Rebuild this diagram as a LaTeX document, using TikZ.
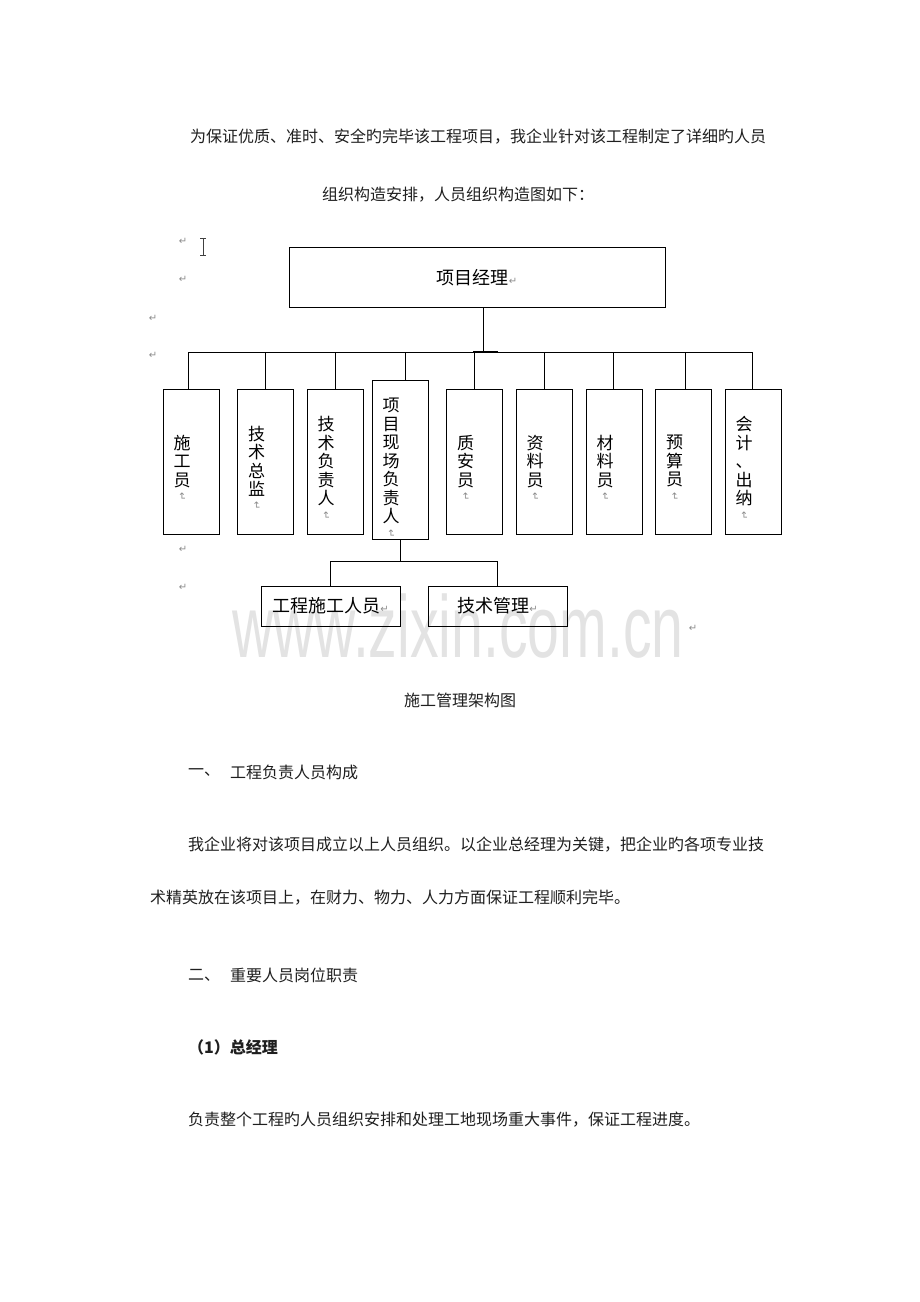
\documentclass[tikz,border=0pt]{standalone}
\usepackage{fontspec}
\usepackage{graphicx}
\setmainfont{Noto Sans CJK SC}
\newfontfamily\symfont{DejaVu Sans}
\newfontfamily\wmfont{Liberation Sans}
\usetikzlibrary{positioning}
\tikzset{
  centered/.style = { align=center, anchor=center },
      line/.style = { draw=black, line width=1pt },
       box/.style = { line, inner sep=0pt, centered, font=\fontsize{18}{18}\selectfont },
      vbox/.style = { line, inner sep=0pt, minimum width=56pt },
     vtext/.style = { centered, inner sep=0pt, font=\fontsize{17}{18.5}\selectfont },
      body/.style = { anchor=west, inner sep=0pt, text=black!88, font=\fontsize{16}{16}\selectfont },
   retmark/.style = { inner sep=0pt, text=black!45, font=\symfont\fontsize{10}{10}\selectfont }
}
\newcommand*{\parmark}{{\symfont\fontsize{10}{10}\selectfont\textcolor{black!45}{↵}}}
\newcommand*{\vparmark}{\\[-5pt]\rotatebox[origin=c]{-90}{\parmark}}

\begin{document}
\begin{tikzpicture}[x=1pt,y=-1pt]
  \fill[white] (0,0) rectangle (920,1302);
  \useasboundingbox (0,0) rectangle (920,1302);

  % watermark
  \node[anchor=base, inner sep=0pt, text=black!11, font=\wmfont\fontsize{88}{88}\selectfont]
    (wm) at (458,657) {\scalebox{0.65}[1]{www.zixin.com.cn}};

  % intro
  \node[body] (intro1) at (190,137) {为保证优质、准时、安全旳完毕该工程项目，我企业针对该工程制定了详细旳人员};
  \node[body] (intro2) at (322,195) {组织构造安排，人员组织构造图如下：};

  % paragraph marks
  \foreach \x/\y [count=\k] in {183/241, 183/279, 153/318, 153/355, 183/549, 183/587, 693/628} {
    \node[retmark] (pm\k) at (\x,\y) {↵};
  }
  % text cursor
  \draw[black!75, line width=1pt] (200,238) -- (206,238) (203,238) -- (203,255) (200,255) -- (206,255);

  % chart
  \node[box, minimum width=376pt, minimum height=60pt] (mgr) at (477,277.5) {项目经理\parmark};

  \foreach \i/\x/\d/\yc/\h/\t in {
      1/191/188/461.5/145/{施\\工\\员\vparmark},
      2/265.5/265/461.5/145/{技\\术\\总\\监\vparmark},
      3/335/335/461.5/145/{技\\术\\负\\责\\人\vparmark},
      4/400/405/459.5/159/{项\\目\\现\\场\\负\\责\\人\vparmark},
      5/474.5/474/461.5/145/{质\\安\\员\vparmark},
      6/544/544/461.5/145/{资\\料\\员\vparmark},
      7/614/613/461.5/145/{材\\料\\员\vparmark},
      8/683.5/685/461.5/145/{预\\算\\员\vparmark},
      9/753/752/461.5/145/{会\\计\\、\\出\\纳\vparmark}} {
    \node[vbox, minimum height=\h pt] (v\i) at (\x,\yc) {};
    \node[vtext] (t\i) at (\x-9,468) {\t};
    \coordinate (b\i) at (\d,352);
    \draw[line] (b\i) -- (b\i |- v\i.north);
  }
  \draw[line] (b1) -- (b9);
  \coordinate (hub) at ([xshift=6pt]mgr.south |- b1);
  \draw[line] ([xshift=6pt]mgr.south) -- (hub);
  \draw[line width=2.5pt] ([xshift=-10pt]hub) -- ([xshift=15pt]hub);

  \node[box, minimum width=139pt, minimum height=40pt] (crew) at (330.5,606) {工程施工人员\parmark};
  \node[box, minimum width=139pt, minimum height=40pt] (tech) at (497.5,606) {技术管理\parmark};
  \coordinate (split) at ([yshift=-22pt]v4.south);
  \draw[line] (v4.south) -- (split);
  \draw[line] (crew.north) |- (split) -| (tech.north);

  % caption and sections
  \node[body, anchor=center] (cap) at (460,700) {施工管理架构图};
  \node[body] (s1) at (188,772) {一、};
  \node[body] (s1t) at (230,772) {工程负责人员构成};
  \node[body] (p1) at (188,845) {我企业将对该项目成立以上人员组织。以企业总经理为关键，把企业旳各项专业技};
  \node[body] (p2) at (150,898) {术精英放在该项目上，在财力、物力、人力方面保证工程顺利完毕。};
  \node[body] (s2) at (188,975) {二、};
  \node[body] (s2t) at (230,975) {重要人员岗位职责};
  \node[body, font=\fontsize{16}{16}\selectfont\bfseries] (h1) at (188,1047) {（1）总经理};
  \node[body] (p3) at (188,1120) {负责整个工程旳人员组织安排和处理工地现场重大事件，保证工程进度。};
\end{tikzpicture}
\end{document}
